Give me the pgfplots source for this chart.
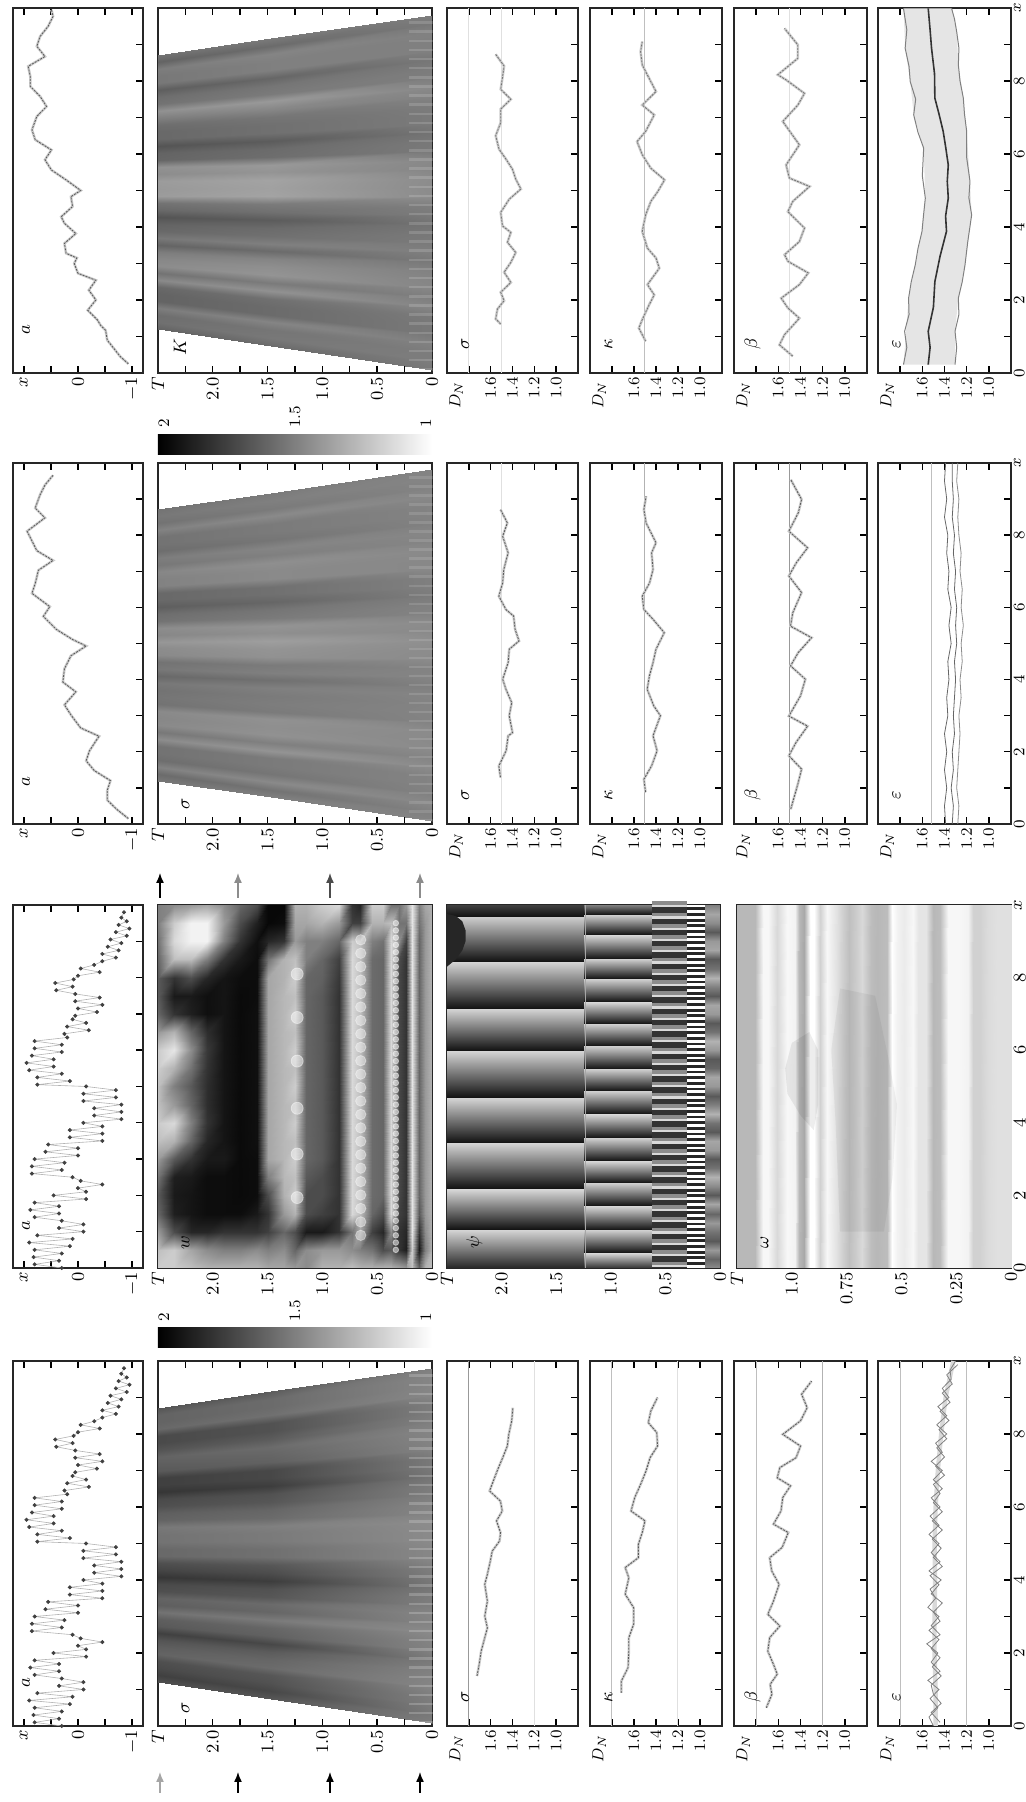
\documentclass[border=0pt]{standalone}
\usepackage{pgfplots}
\usepackage{pgfplotstable}
\usepackage{graphicx}
\pgfplotsset{compat=1.18}
\usetikzlibrary{arrows.meta}
% ---------- styles
\pgfplotsset{
 place/.style n args={4}{at={(#1*0.5pt,#2*0.5pt)},anchor=south west,width=#3*0.5pt,height=#4*0.5pt,scale only axis},
 base/.style={xmin=0,xmax=10,xtick={0,1,...,10},xticklabels={},xtick pos=lower,ytick pos=both,tick align=inside,
   major tick length=3.5pt,tick style={black,line width=.7pt},axis line style={line width=.8pt,black!85},
   colormap={bw}{gray(0cm)=(0); gray(1cm)=(1)},point meta min=0,point meta max=1,
   yticklabel style={xshift=1.5pt},xticklabel style={yshift=2pt}},
 xlab/.style={xticklabels={$0$,,$2$,,$4$,,$6$,,$8$,,$x$},tick label style={font=\fontsize{8.5}{9}\selectfont}},
 apanel/.style={base,ymin=-1.2,ymax=1.2,ytick={-1,-.5,0,.5,1},yticklabels={$-1$,,$0$,,$x$},tick label style={font=\fontsize{9.5}{10}\selectfont}},
 heat/.style={base,ymin=0,ymax=2.5,ytick={0,.25,...,2.5},yticklabels={$0$,,$0.5$,,$1.0$,,$1.5$,,$2.0$,,$T$},tick label style={font=\fontsize{9.5}{10}\selectfont}},
 dpanel/.style={base,ymin=.8,ymax=2,ytick={1,1.2,1.4,1.6,1.8},yticklabels={$1.0$,$1.2$,$1.4$,$1.6$,},tick label style={font=\fontsize{8.5}{9}\selectfont},
   extra description/.append code={\node[anchor=east,font=\fontsize{8.5}{9}\selectfont] at (axis description cs:-.003,.93) {$D_N$};}},
 lett/.style n args={3}{extra description/.append code={\node[font=\fontsize{9.5}{10}\selectfont] at (axis description cs:#1,#2) {$#3$};}},
 ser/.style={line width=.4pt,black!65,dash pattern=on 1pt off .6pt,preaction={draw,solid,line width=1.3pt,black!20}},
 fast/.style={line width=.3pt,black!30,mark=*,mark size=.85pt,mark options={solid,fill=black!75,draw=black!75}},
 refl/.style={line width=.5pt,black!40},
 faint/.style={line width=.5pt,black!12},
}
% ---------- a(x)
\newcommand\aFast{(0,.3)(.1,.8)(.2,.35)(.3,.82)(.4,.3)(.5,.8)(.6,.15)(.7,.9)(.8,.1)(.9,.75)(1,-.1)(1.1,.35)(1.2,-.1)(1.3,.3)(1.4,.8)(1.5,.35)(1.6,.88)(1.7,.35)(1.8,.8)(1.9,-.15)(2,.45)(2.1,-.15)(2.2,0)(2.3,-.45)(2.4,-.05)(2.5,.1)(2.6,.85)(2.7,.3)(2.8,.85)(2.9,.25)(3,.8)(3.1,0)(3.2,.6)(3.3,0)(3.4,.55)(3.5,-.45)(3.6,.15)(3.7,-.45)(3.8,.15)(3.9,-.45)(4,-.1)(4.1,-.8)(4.2,-.3)(4.3,-.8)(4.4,-.3)(4.5,-.8)(4.6,-.1)(4.7,-.7)(4.8,-.1)(4.9,-.7)(5,-.15)(5.05,.75)(5.15,.15)(5.25,.75)(5.35,.3)(5.45,.9)(5.55,.45)(5.65,.95)(5.75,.45)(5.85,.85)(5.95,.3)(6.05,.8)(6.15,.3)(6.25,.8)(6.35,.2)(6.45,.25)(6.55,-.2)(6.65,.2)(6.75,-.15)(6.85,.1)(6.95,.05)(7.05,-.35)(7.15,0)(7.25,-.45)(7.35,.05)(7.45,-.4)(7.55,.05)(7.65,.4)(7.75,.1)(7.85,.42)(7.95,.08)(8.05,0)(8.15,-.4)(8.25,-.05)(8.35,-.3)(8.45,-.45)(8.55,-.7)(8.65,-.45)(8.75,-.75)(8.85,-.55)(8.95,-.8)(9.05,-.6)(9.15,-.9)(9.25,-.7)(9.35,-.95)(9.45,-.75)(9.55,-.9)(9.65,-.8)(9.8,-.85)}
\newcommand\aSlowFour{(.25,-.93)(.45,-.78)(.62,-.69)(.9,-.54)(1.17,-.51)(1.3,-.42)(1.45,-.36)(1.72,-.18)(2,-.33)(2.27,-.2)(2.54,-.33)(2.73,0)(3,.07)(3.15,.02)(3.28,.22)(3.55,.25)(3.82,.04)(4.1,.25)(4.28,.31)(4.56,.1)(4.83,.13)(5,-.05)(5.29,.22)(5.56,.49)(5.84,.61)(6.11,.49)(6.39,.79)(6.66,.85)(7.03,.76)(7.3,.58)(7.58,.7)(7.85,.88)(8.12,.88)(8.4,.92)(8.67,.61)(8.95,.76)(9.22,.7)(9.5,.55)(9.77,.46)(9.95,.49)}
\newcommand\aSlowThree{(.15,-.93)(.4,-.72)(.66,-.54)(.93,-.54)(1.2,-.6)(1.48,-.3)(1.75,-.15)(2.02,-.21)(2.3,-.33)(2.43,-.39)(2.66,-.05)(3.02,.13)(3.3,.25)(3.66,.04)(3.93,.28)(4.3,.25)(4.66,.13)(4.93,-.15)(5.11,.1)(5.39,.4)(5.75,.64)(6.02,.52)(6.39,.85)(6.66,.79)(7.03,.73)(7.3,.46)(7.57,.76)(7.84,.85)(8.11,.94)(8.48,.61)(8.75,.79)(9.12,.7)(9.39,.61)(9.66,.46)}
% ---------- wedge stripes
\pgfplotstableread[row sep=\\]{g\\.42\\.47\\.46\\.52\\.42\\.42\\.44\\.57\\.48\\.58\\.56\\.52\\.42\\.5\\.44\\.42\\.36\\.44\\.48\\.64\\.63\\.64\\.58\\.6\\.43\\.42\\.36\\.44\\.44\\.46\\.53\\.6\\.48\\.46\\.4\\.5\\.5\\.52\\.42\\.48\\}\tK
\pgfplotstableread[row sep=\\]{g\\.5\\.45\\.54\\.46\\.48\\.48\\.58\\.5\\.57\\.56\\.57\\.48\\.49\\.48\\.5\\.44\\.5\\.48\\.57\\.58\\.62\\.56\\.58\\.48\\.46\\.4\\.44\\.44\\.54\\.54\\.56\\.5\\.52\\.46\\.48\\.48\\.54\\.48\\.5\\.48\\}\tS
\pgfplotstableread[row sep=\\]{g\\.34\\.28\\.32\\.34\\.42\\.4\\.36\\.28\\.38\\.4\\.48\\.4\\.42\\.34\\.32\\.24\\.3\\.34\\.44\\.44\\.48\\.48\\.5\\.42\\.4\\.34\\.32\\.24\\.28\\.28\\.38\\.4\\.42\\.36\\.32\\.32\\.44\\.42\\.42\\.36\\}\tC
\newcommand\triple[2]{\pgfplotstablevertcat{#1}{#2}\pgfplotstablevertcat{#1}{#2}\pgfplotstablevertcat{#1}{#2}\pgfplotstablecreatecol[create col/set={0}]{d}{#1}}
\triple{\tKt}{\tK}\triple{\tSt}{\tS}\triple{\tCt}{\tC}
\newcommand\wT{(\coordindex<40?0:(\coordindex<80?1.47:2.5))}
\newcommand\wedgeplot[2]{\addplot[surf,shader=interp,mesh/cols=40,point meta=explicit] table[
  x expr={5+(0.07+0.25*mod(\coordindex,40)-5)*(1-0.092*\wT)},
  y expr={\wT},
  meta expr={\coordindex<40 ? (0.5+(\thisrow{g}-0.5)*0.35+#2) : (\coordindex<80 ? \thisrow{g} : \thisrow{g}-0.03)}] {#1};}
\newcommand\ripple{(.1,.1)(.35,.1)(.6,.1)(.85,.1)(1.1,.1)(1.35,.1)(1.6,.1)(1.85,.1)(2.1,.1)(2.35,.1)(2.6,.1)(2.85,.1)(3.1,.1)(3.35,.1)(3.6,.1)(3.85,.1)(4.1,.1)(4.35,.1)(4.6,.1)(4.85,.1)(5.1,.1)(5.35,.1)(5.6,.1)(5.85,.1)(6.1,.1)(6.35,.1)(6.6,.1)(6.85,.1)(7.1,.1)(7.35,.1)(7.6,.1)(7.85,.1)(8.1,.1)(8.35,.1)(8.6,.1)(8.85,.1)(9.1,.1)(9.35,.1)(9.6,.1)}
% ---------- W table, T rows ascending, x = 0,0.5,...,10
\pgfplotstableread[row sep=\\]{g\\
.75\\.7\\.7\\.7\\.7\\.7\\.7\\.7\\.7\\.7\\.7\\.7\\.7\\.7\\.7\\.7\\.7\\.7\\.7\\.7\\.7\\
.7\\.5\\.55\\.6\\.6\\.6\\.6\\.6\\.6\\.6\\.6\\.6\\.6\\.6\\.6\\.6\\.6\\.6\\.6\\.6\\.65\\
.4\\.1\\.2\\.35\\.4\\.4\\.4\\.4\\.4\\.4\\.4\\.4\\.4\\.4\\.4\\.4\\.4\\.4\\.4\\.45\\.5\\
.75\\.8\\.9\\.9\\.9\\.9\\.9\\.9\\.9\\.9\\.9\\.9\\.9\\.9\\.9\\.9\\.9\\.9\\.9\\.9\\.9\\
.6\\.12\\.15\\.2\\.2\\.2\\.2\\.2\\.2\\.2\\.2\\.2\\.2\\.2\\.2\\.2\\.2\\.2\\.25\\.45\\.6\\
.65\\.2\\.2\\.25\\.28\\.28\\.28\\.28\\.28\\.28\\.28\\.28\\.28\\.28\\.28\\.28\\.28\\.3\\.55\\.45\\.45\\
.7\\.35\\.55\\.85\\.85\\.85\\.85\\.85\\.85\\.85\\.85\\.85\\.85\\.85\\.85\\.85\\.85\\.85\\.85\\.75\\.45\\
.7\\.3\\.15\\.3\\.4\\.4\\.4\\.4\\.4\\.4\\.4\\.4\\.4\\.4\\.4\\.4\\.4\\.4\\.45\\.7\\.8\\
.7\\.45\\.25\\.4\\.42\\.42\\.42\\.42\\.42\\.42\\.42\\.42\\.42\\.42\\.42\\.42\\.42\\.42\\.5\\.7\\.8\\
.7\\.5\\.65\\.75\\.75\\.75\\.75\\.75\\.75\\.75\\.75\\.75\\.75\\.75\\.75\\.75\\.75\\.75\\.75\\.25\\.15\\
.75\\.55\\.45\\.85\\.85\\.85\\.85\\.85\\.85\\.85\\.85\\.85\\.85\\.85\\.85\\.85\\.85\\.85\\.8\\.25\\.2\\
.7\\.6\\.2\\.2\\.2\\.2\\.2\\.2\\.2\\.2\\.2\\.2\\.2\\.2\\.2\\.2\\.22\\.25\\.4\\.6\\.85\\
.7\\.6\\.1\\.25\\.3\\.3\\.35\\.35\\.35\\.35\\.35\\.35\\.35\\.35\\.35\\.35\\.38\\.4\\.5\\.7\\.8\\
.55\\.55\\.1\\.3\\.3\\.35\\.4\\.4\\.4\\.4\\.4\\.4\\.4\\.4\\.4\\.4\\.4\\.5\\.5\\.65\\.7\\
.6\\.4\\.3\\.7\\.8\\.75\\.8\\.75\\.8\\.75\\.8\\.75\\.8\\.75\\.8\\.75\\.8\\.75\\.6\\.65\\.7\\
.65\\.55\\.4\\.6\\.7\\.72\\.72\\.72\\.72\\.72\\.72\\.72\\.72\\.72\\.72\\.72\\.7\\.7\\.2\\.05\\.03\\
.65\\.5\\.25\\.2\\.3\\.5\\.65\\.65\\.65\\.65\\.65\\.65\\.65\\.65\\.65\\.65\\.65\\.45\\.15\\.03\\.03\\
.7\\.55\\.2\\.1\\.05\\.05\\.05\\.06\\.06\\.06\\.06\\.06\\.06\\.06\\.06\\.05\\.05\\.05\\.06\\.12\\.3\\
.7\\.5\\.2\\.05\\.04\\.04\\.04\\.04\\.04\\.04\\.04\\.04\\.04\\.04\\.04\\.04\\.05\\.1\\.2\\.3\\.4\\
.7\\.5\\.2\\.05\\.05\\.05\\.1\\.08\\.08\\.08\\.08\\.08\\.08\\.08\\.08\\.08\\.08\\.2\\.5\\.6\\.55\\
.7\\.55\\.15\\.05\\.05\\.05\\.1\\.15\\.2\\.18\\.18\\.2\\.22\\.18\\.06\\.06\\.15\\.5\\.95\\.95\\.65\\
.75\\.65\\.15\\.08\\.08\\.1\\.2\\.4\\.5\\.4\\.35\\.45\\.55\\.4\\.12\\.1\\.3\\.75\\.95\\.95\\.6\\
.8\\.8\\.3\\.12\\.1\\.12\\.35\\.7\\.85\\.6\\.5\\.7\\.9\\.7\\.2\\.1\\.2\\.75\\.85\\.8\\.55\\
.8\\.75\\.6\\.4\\.35\\.45\\.6\\.75\\.8\\.75\\.75\\.8\\.8\\.6\\.4\\.35\\.35\\.4\\.45\\.5\\.5\\
}\tW
\pgfplotstablecreatecol[create col/set={0}]{d}{\tW}
% ---------- phase panel
\pgfplotstableread[row sep=\\]{x g\\0 .15\\1.07 .85\\1.08 .08\\2.18 .85\\2.19 .08\\3.47 .85\\3.48 .08\\4.71 .85\\4.72 .08\\6 .85\\6.01 .08\\7.16 .85\\7.17 .08\\8.45 .85\\8.46 .08\\9.69 .82\\9.7 .08\\10 .25\\}\Pa
\pgfplotstableread[row sep=\\]{x g\\0 .2\\.42 .85\\.43 .1\\1.07 .85\\1.08 .1\\1.72 .85\\1.73 .1\\2.36 .85\\2.37 .1\\2.96 .85\\2.97 .1\\3.61 .85\\3.62 .1\\4.25 .85\\4.26 .1\\4.9 .85\\4.91 .1\\5.5 .85\\5.51 .1\\6.14 .85\\6.15 .1\\6.74 .85\\6.75 .1\\7.34 .85\\7.35 .1\\7.98 .85\\7.99 .1\\8.54 .85\\8.55 .1\\9.18 .85\\9.19 .1\\9.74 .85\\9.75 .1\\10 .5\\}\Pb
\pgfplotstableread[row sep=\\]{x g\\0 .55\\.25 .4\\.5 .6\\.75 .35\\1 .45\\1.25 .6\\1.5 .4\\1.75 .65\\2 .35\\2.25 .55\\2.5 .7\\2.75 .45\\3 .35\\3.25 .6\\3.5 .65\\3.75 .35\\4 .45\\4.25 .7\\4.5 .5\\4.75 .35\\5 .6\\5.25 .65\\5.5 .4\\5.75 .35\\6 .6\\6.25 .7\\6.5 .45\\6.75 .35\\7 .6\\7.25 .65\\7.5 .35\\7.75 .5\\8 .7\\8.25 .45\\8.5 .35\\8.75 .65\\9 .6\\9.25 .35\\9.5 .55\\9.75 .65\\10 .5\\}\Pe
\pgfplotstablevertcat{\Paa}{\Pa}\pgfplotstablevertcat{\Paa}{\Pa}
\pgfplotstablevertcat{\Pbb}{\Pb}\pgfplotstablevertcat{\Pbb}{\Pb}
\pgfplotstablevertcat{\Pee}{\Pe}\pgfplotstablevertcat{\Pee}{\Pe}
\newcommand\Lthree{(.05,.46)(.36,.46)(.67,.46)(.98,.46)(1.29,.46)(1.6,.46)(1.91,.46)(2.22,.46)(2.53,.46)(2.84,.46)(3.15,.46)(3.46,.46)(3.77,.46)(4.08,.46)(4.39,.46)(4.7,.46)(5.01,.46)(5.32,.46)(5.63,.46)(5.94,.46)(6.25,.46)(6.56,.46)(6.87,.46)(7.18,.46)(7.49,.46)(7.8,.46)(8.11,.46)(8.42,.46)(8.73,.46)(9.04,.46)(9.35,.46)(9.66,.46)(9.97,.46)}
\newcommand\Lfour{(.05,.22)(.36,.22)(.67,.22)(.98,.22)(1.29,.22)(1.6,.22)(1.91,.22)(2.22,.22)(2.53,.22)(2.84,.22)(3.15,.22)(3.46,.22)(3.77,.22)(4.08,.22)(4.39,.22)(4.7,.22)(5.01,.22)(5.32,.22)(5.63,.22)(5.94,.22)(6.25,.22)(6.56,.22)(6.87,.22)(7.18,.22)(7.49,.22)(7.8,.22)(8.11,.22)(8.42,.22)(8.73,.22)(9.04,.22)(9.35,.22)(9.66,.22)(9.97,.22)}
% ---------- wave panel
\pgfplotstableread[row sep=\\]{T g\\0 .88\\.058 .88\\.104 .86\\.142 .82\\.173 .82\\.196 .95\\.242 .97\\.288 .97\\.326 .74\\.357 .72\\.388 .9\\.426 .9\\.449 .97\\.487 .92\\.518 .95\\.541 1\\.564 .74\\.61 .72\\.64 .74\\.679 .85\\.709 .8\\.74 .75\\.77 .82\\.794 .88\\.84 .97\\.873 .82\\.9 1\\.919 1\\.944 .66\\.965 .72\\.985 .95\\1.023 .97\\1.069 .85\\1.108 .97\\1.13 .97\\1.169 .72\\1.215 .72\\1.25 .72\\}\Wv
\pgfplotstablevertcat{\Wvv}{\Wv}\pgfplotstablevertcat{\Wvv}{\Wv}
\begin{document}
\rotatebox{90}{%
\begin{tikzpicture}
\path[use as bounding box] (0,0) rectangle (901pt,513pt);
% ========== column 1
\begin{axis}[place={76}{883}{365}{130},apanel,lett={.118}{.9}{a}]
 \addplot[fast] coordinates {\aFast};
\end{axis}
\begin{axis}[place={76}{594}{365}{274},heat,lett={.05}{.9}{\sigma}]
 \wedgeplot{\tCt}{0.05}
 \addplot[only marks,mark=|,mark size=6pt,mark options={line width=1.2pt,white,opacity=.2}] coordinates {\ripple};
\end{axis}
\begin{axis}[place={76}{448}{365}{131},dpanel,lett={.08}{.86}{\sigma}]
 \addplot[refl] coordinates {(0,1.8)(10,1.8)}; \addplot[faint] coordinates {(0,1.2)(10,1.2)};
 \addplot[ser] coordinates {(1.37,1.725)(1.69,1.705)(2.05,1.687)(2.42,1.654)(2.69,1.63)(3.01,1.654)(3.42,1.63)(3.88,1.654)(4.16,1.63)(4.52,1.603)(4.79,1.586)(5.07,1.518)(5.3,1.51)(5.62,1.546)(5.89,1.494)(6.16,1.51)(6.44,1.61)(6.71,1.576)(7.03,1.535)(7.35,1.49)(7.67,1.447)(7.99,1.434)(8.36,1.407)(8.72,1.397)};
\end{axis}
\begin{axis}[place={76}{304}{365}{132},dpanel,lett={.08}{.86}{\kappa}]
 \addplot[faint,black!25] coordinates {(0,1.8)(10,1.8)}; \addplot[faint] coordinates {(0,1.2)(10,1.2)};
 \addplot[ser] coordinates {(.91,1.715)(1.23,1.715)(1.6,1.654)(2.05,1.647)(2.42,1.647)(2.79,1.603)(3.24,1.603)(3.61,1.68)(4.06,1.647)(4.34,1.68)(4.61,1.56)(4.98,1.56)(5.3,1.525)(5.62,1.5)(5.89,1.627)(6.26,1.593)(6.62,1.54)(6.99,1.49)(7.35,1.454)(7.67,1.386)(8.04,1.393)(8.31,1.47)(8.63,1.447)(9,1.386)};
\end{axis}
\begin{axis}[place={76}{159}{365}{133},dpanel,lett={.08}{.86}{\beta}]
 \addplot[faint,black!25] coordinates {(0,1.8)(10,1.8)}; \addplot[refl,black!30] coordinates {(0,1.2)(10,1.2)};
 \addplot[ser] coordinates {(.5,1.708)(.87,1.658)(1.14,1.674)(1.42,1.61)(1.69,1.644)(2.05,1.695)(2.42,1.678)(2.74,1.586)(3.06,1.695)(3.42,1.644)(3.88,1.593)(4.25,1.66)(4.61,1.678)(4.89,1.566)(5.3,1.51)(5.53,1.644)(5.89,1.576)(6.26,1.56)(6.58,1.49)(6.8,1.61)(7.08,1.586)(7.35,1.44)(7.67,1.4)(7.99,1.56)(8.36,1.4)(8.72,1.34)(9.09,1.39)(9.45,1.3)};
\end{axis}
\begin{axis}[place={76}{15}{365}{133},dpanel,xlab,lett={.08}{.86}{\varepsilon}]
 \addplot[faint,black!25] coordinates {(0,1.8)(10,1.8)}; \addplot[faint,black!25] coordinates {(0,1.2)(10,1.2)};
 \addplot[line width=2.2pt,black!15] coordinates {(0,1.48)(1,1.48)(2,1.49)(3,1.49)(4,1.485)(5,1.49)(6,1.48)(7,1.46)(8,1.43)(9,1.39)(10,1.32)};
 \addplot[line width=.4pt,black!50] coordinates {(0,1.5)(.25,1.54)(.5,1.46)(.75,1.53)(1,1.45)(1.25,1.55)(1.5,1.44)(1.75,1.52)(2,1.46)(2.25,1.56)(2.5,1.44)(2.75,1.52)(3,1.45)(3.25,1.55)(3.5,1.48)(3.75,1.53)(4,1.43)(4.25,1.54)(4.5,1.44)(4.75,1.52)(5,1.45)(5.25,1.54)(5.5,1.45)(5.75,1.53)(6,1.44)(6.25,1.52)(6.5,1.42)(6.75,1.5)(7,1.42)(7.25,1.52)(7.5,1.42)(7.75,1.48)(8,1.38)(8.25,1.47)(8.5,1.38)(8.75,1.46)(9,1.36)(9.25,1.42)(9.5,1.34)(9.75,1.35)(10,1.3)};
 \addplot[line width=.4pt,black!50] coordinates {(.1,1.44)(.37,1.52)(.62,1.43)(.87,1.5)(1.12,1.52)(1.37,1.43)(1.62,1.51)(1.87,1.44)(2.12,1.52)(2.37,1.45)(2.62,1.54)(2.87,1.44)(3.12,1.5)(3.37,1.42)(3.62,1.52)(3.87,1.45)(4.12,1.53)(4.37,1.42)(4.62,1.5)(4.87,1.43)(5.12,1.51)(5.37,1.42)(5.62,1.51)(5.87,1.42)(6.12,1.5)(6.37,1.44)(6.62,1.5)(6.87,1.4)(7.12,1.48)(7.37,1.4)(7.62,1.47)(7.87,1.38)(8.12,1.45)(8.37,1.36)(8.62,1.44)(8.87,1.35)(9.12,1.42)(9.37,1.33)(9.62,1.38)(9.9,1.28)};
\end{axis}
% ========== column 2
\begin{axis}[place={534}{883}{363}{130},apanel,lett={.118}{.9}{a}]
 \addplot[fast] coordinates {\aFast};
\end{axis}
\begin{axis}[place={534}{594}{363}{274},heat,lett={.07}{.9}{w}]
 \addplot[surf,shader=interp,mesh/cols=21,point meta=explicit] table[
   x expr={mod(\coordindex,21)*0.5},
   y expr={\coordindex<21?0:(\coordindex<42?0.06:(\coordindex<63?0.12:(\coordindex<84?0.18:(\coordindex<105?0.24:(\coordindex<126?0.3:(\coordindex<147?0.37:(\coordindex<168?0.45:(\coordindex<189?0.55:(\coordindex<210?0.66:(\coordindex<231?0.73:(\coordindex<252?0.85:(\coordindex<273?1.0:(\coordindex<294?1.15:(\coordindex<315?1.25:(\coordindex<336?1.35:(\coordindex<357?1.5:(\coordindex<378?1.6:(\coordindex<399?1.75:(\coordindex<420?1.9:(\coordindex<441?2.05:(\coordindex<462?2.2:(\coordindex<483?2.35:2.5))))))))))))))))))))))},
   meta=g] {\tW};
 \addplot[only marks,mark=*,mark size=2.6pt,mark options={draw=white,fill=white,opacity=.4}] coordinates {(.9,.65)(1.27,.65)(1.64,.65)(2.01,.65)(2.38,.65)(2.75,.65)(3.12,.65)(3.49,.65)(3.86,.65)(4.23,.65)(4.6,.65)(4.97,.65)(5.34,.65)(5.71,.65)(6.08,.65)(6.45,.65)(6.82,.65)(7.19,.65)(7.56,.65)(7.93,.65)(8.3,.65)(8.67,.65)(9.04,.65)};
 \addplot[only marks,mark=*,mark size=1.4pt,mark options={draw=white,fill=white,opacity=.5}] coordinates {(.5,.33)(.7,.33)(.9,.33)(1.1,.33)(1.3,.33)(1.5,.33)(1.7,.33)(1.9,.33)(2.1,.33)(2.3,.33)(2.5,.33)(2.7,.33)(2.9,.33)(3.1,.33)(3.3,.33)(3.5,.33)(3.7,.33)(3.9,.33)(4.1,.33)(4.3,.33)(4.5,.33)(4.7,.33)(4.9,.33)(5.1,.33)(5.3,.33)(5.5,.33)(5.7,.33)(5.9,.33)(6.1,.33)(6.3,.33)(6.5,.33)(6.7,.33)(6.9,.33)(7.1,.33)(7.3,.33)(7.5,.33)(7.7,.33)(7.9,.33)(8.1,.33)(8.3,.33)(8.5,.33)(8.7,.33)(8.9,.33)(9.1,.33)(9.3,.33)(9.5,.33)};
 \addplot[only marks,mark=*,mark size=3pt,mark options={draw=white,fill=white,opacity=.45}] coordinates {(1.94,1.23)(3.14,1.23)(4.4,1.23)(5.7,1.23)(6.9,1.23)(8.1,1.23)};
\end{axis}
\begin{axis}[place={534}{306}{363}{273},heat,lett={.07}{.9}{\psi}]
 \addplot[surf,shader=interp,mesh/cols=18,point meta=explicit] table[x=x,y expr={\coordindex<18 ? 1.25 : 2.5},meta=g] {\Paa};
 \addplot[surf,shader=interp,mesh/cols=34,point meta=explicit] table[x=x,y expr={\coordindex<34 ? 0.62 : 1.25},meta=g] {\Pbb};
 \addplot[fill=black!80,draw=none] coordinates {(0,.3)(10,.3)(10,.62)(0,.62)};
 \addplot[only marks,mark=|,mark size=8.8pt,mark options={line width=1.2pt,white!85!black}] coordinates {\Lthree};
 \addplot[only marks,mark=|,mark size=8.8pt,mark options={line width=1.8pt,black!45,xshift=1.4pt}] coordinates {\Lthree};
 \addplot[surf,shader=interp,mesh/cols=41,point meta=explicit] table[x=x,y expr={\coordindex<41 ? 0 : 0.14},meta=g] {\Pee};
 \addplot[fill=black!85,draw=none] coordinates {(0,.14)(10,.14)(10,.3)(0,.3)};
 \addplot[only marks,mark=|,mark size=4.4pt,mark options={line width=1.4pt,white}] coordinates {\Lfour};
 \addplot[only marks,mark=|,mark size=4.4pt,mark options={line width=1.4pt,white,xshift=2.8pt}] coordinates {\Lfour};
 \addplot[line width=.6pt,black!35] coordinates {(0,1.23)(10,1.23)};
 \addplot[fill=black!85,draw=none] coordinates {(8.3,2.5)(8.5,2.42)(8.75,2.36)(9,2.33)(9.3,2.33)(9.55,2.36)(9.7,2.42)(9.75,2.5)};
\end{axis}
\begin{axis}[place={534}{15}{363}{274},base,xlab,ymin=0,ymax=1.25,ytick={0,.125,...,1.25},yticklabels={$0$,,$0.25$,,$0.5$,,$0.75$,,$1.0$,,$T$},lett={.07}{.9}{\omega},tick label style={font=\fontsize{9.5}{10}\selectfont}]
 \addplot[surf,shader=interp,mesh/cols=38,point meta=explicit] table[x expr={\coordindex<38 ? 0 : 10},y=T,meta=g] {\Wvv};
 \addplot[fill=black,fill opacity=.07,draw=none] coordinates {(3.8,.9)(4.2,.96)(4.8,1.02)(5.5,1.03)(6.2,1.0)(6.5,.92)(6,.88)(4.5,.88)};
 \addplot[fill=black,fill opacity=.05,draw=none] coordinates {(1,.58)(2.5,.54)(4.5,.52)(5.8,.56)(7.5,.62)(7.7,.78)(6,.82)(4,.8)(1,.78)};
\end{axis}
% ========== column 3
\begin{axis}[place={978}{883}{361}{130},apanel,lett={.118}{.9}{a}]
 \addplot[ser] coordinates {\aSlowThree};
\end{axis}
\begin{axis}[place={978}{594}{361}{274},heat,lett={.057}{.9}{\sigma}]
 \wedgeplot{\tSt}{0.02}
 \addplot[only marks,mark=|,mark size=6pt,mark options={line width=1.2pt,white,opacity=.12}] coordinates {\ripple};
\end{axis}
\begin{axis}[place={978}{448}{361}{131},dpanel,lett={.08}{.86}{\sigma}]
 \addplot[faint] coordinates {(0,1.5)(10,1.5)};
 \addplot[ser] coordinates {(1.29,1.51)(1.61,1.525)(2.03,1.458)(2.44,1.44)(2.53,1.4)(3,1.43)(3.36,1.407)(3.73,1.46)(4.01,1.49)(4.47,1.44)(4.84,1.43)(5.07,1.34)(5.39,1.376)(5.76,1.39)(5.94,1.46)(6.31,1.525)(6.68,1.49)(7.05,1.48)(7.51,1.44)(7.97,1.49)(8.34,1.447)(8.71,1.51)};
\end{axis}
\begin{axis}[place={978}{304}{361}{132},dpanel,lett={.08}{.86}{\kappa}]
 \addplot[refl,black!30] coordinates {(0,1.5)(10,1.5)};
 \addplot[ser] coordinates {(.88,1.495)(1.24,1.51)(1.61,1.44)(2.03,1.39)(2.44,1.427)(3,1.36)(3.27,1.42)(3.73,1.48)(4.1,1.46)(4.47,1.427)(4.84,1.4)(5.3,1.325)(5.67,1.427)(5.94,1.51)(6.31,1.525)(6.68,1.458)(7.05,1.427)(7.51,1.44)(7.79,1.4)(8.34,1.49)(8.71,1.51)(9.08,1.49)};
\end{axis}
\begin{axis}[place={978}{159}{361}{133},dpanel,lett={.08}{.86}{\beta}]
 \addplot[refl] coordinates {(0,1.5)(10,1.5)};
 \addplot[ser] coordinates {(.41,1.488)(1.15,1.42)(1.52,1.39)(1.89,1.505)(2.26,1.44)(2.71,1.336)(2.99,1.505)(3.55,1.4)(4.01,1.356)(4.38,1.49)(4.75,1.42)(5.16,1.3)(5.48,1.49)(5.85,1.47)(6.41,1.39)(6.87,1.505)(7.24,1.437)(7.65,1.336)(8.11,1.505)(8.62,1.42)(8.99,1.39)(9.54,1.488)};
\end{axis}
\begin{axis}[place={978}{15}{361}{133},dpanel,xlab,lett={.08}{.86}{\varepsilon}]
 \addplot[refl,black!25] coordinates {(0,1.52)(10,1.52)};
 \addplot[line width=.4pt,black!60] coordinates {(0,1.39)(.5,1.4)(1,1.38)(1.5,1.4)(2,1.38)(2.5,1.4)(3,1.37)(3.5,1.38)(4,1.36)(4.5,1.37)(5,1.34)(5.5,1.36)(6,1.34)(6.5,1.37)(7,1.36)(7.5,1.38)(8,1.37)(8.5,1.4)(9,1.38)(9.5,1.4)(10,1.39)};
 \addplot[line width=.4pt,black!60] coordinates {(0,1.33)(.5,1.32)(1,1.34)(1.5,1.32)(2,1.33)(2.5,1.31)(3,1.32)(3.5,1.31)(4,1.3)(4.5,1.31)(5,1.29)(5.5,1.3)(6,1.29)(6.5,1.31)(7,1.3)(7.5,1.32)(8,1.31)(8.5,1.33)(9,1.32)(9.5,1.33)(10,1.33)};
 \addplot[line width=.4pt,black!45] coordinates {(0,1.28)(.5,1.27)(1,1.29)(1.5,1.28)(2,1.27)(2.5,1.26)(3,1.27)(3.5,1.25)(4,1.26)(4.5,1.24)(5,1.25)(5.5,1.23)(6,1.25)(6.5,1.24)(7,1.26)(7.5,1.25)(8,1.27)(8.5,1.28)(9,1.27)(9.5,1.29)(10,1.28)};
\end{axis}
% ========== column 4
\begin{axis}[place={1429}{883}{365}{130},apanel,lett={.118}{.9}{a}]
 \addplot[ser] coordinates {\aSlowFour};
\end{axis}
\begin{axis}[place={1429}{594}{365}{274},heat,lett={.072}{.92}{K}]
 \wedgeplot{\tKt}{0.0}
 \addplot[only marks,mark=|,mark size=6pt,mark options={line width=1.2pt,white,opacity=.15}] coordinates {\ripple};
\end{axis}
\begin{axis}[place={1429}{448}{365}{131},dpanel,lett={.08}{.86}{\sigma}]
 \addplot[faint] coordinates {(0,1.5)(10,1.5)}; \addplot[faint] coordinates {(0,1.8)(10,1.8)};
 \addplot[ser,black!55] coordinates {(1.34,1.508)(1.48,1.554)(1.75,1.538)(1.98,1.477)(2.21,1.508)(2.48,1.415)(2.76,1.477)(3.03,1.415)(3.3,1.37)(3.58,1.446)(3.85,1.415)(4.03,1.492)(4.4,1.508)(4.76,1.43)(5.04,1.323)(5.31,1.37)(5.58,1.4)(5.86,1.46)(6.13,1.523)(6.5,1.554)(6.86,1.508)(7.23,1.508)(7.5,1.415)(7.77,1.508)(8.09,1.492)(8.41,1.477)(8.73,1.554)};
\end{axis}
\begin{axis}[place={1429}{304}{365}{132},dpanel,lett={.08}{.86}{\kappa}]
 \addplot[refl,black!25] coordinates {(0,1.5)(10,1.5)};
 \addplot[ser,black!55] coordinates {(.87,1.494)(1.23,1.556)(1.46,1.525)(1.87,1.462)(2.14,1.416)(2.42,1.478)(2.87,1.37)(3.15,1.4)(3.42,1.478)(3.88,1.525)(4.33,1.494)(4.7,1.447)(4.97,1.384)(5.29,1.322)(5.61,1.447)(5.98,1.525)(6.34,1.572)(6.62,1.494)(7.07,1.416)(7.34,1.525)(7.71,1.4)(8.07,1.462)(8.44,1.525)(8.8,1.54)(9.08,1.525)};
\end{axis}
\begin{axis}[place={1429}{159}{365}{133},dpanel,lett={.08}{.86}{\beta}]
 \addplot[faint] coordinates {(0,1.5)(10,1.5)};
 \addplot[ser,black!55] coordinates {(.46,1.47)(.77,1.59)(1.05,1.544)(1.5,1.41)(1.78,1.514)(2.05,1.574)(2.42,1.41)(2.74,1.33)(3.06,1.514)(3.24,1.544)(3.6,1.41)(3.97,1.364)(4.42,1.514)(4.7,1.47)(5.11,1.318)(5.34,1.5)(5.7,1.53)(6.25,1.41)(6.89,1.56)(7.34,1.424)(7.66,1.364)(8.03,1.53)(8.17,1.605)(8.62,1.424)(8.99,1.424)(9.44,1.544)};
\end{axis}
\begin{axis}[place={1429}{15}{365}{133},dpanel,xlab,lett={.08}{.86}{\varepsilon}]
 \addplot[fill=black!10,draw=none] coordinates {(.23,1.77)(2.05,1.724)(2.96,1.664)(3.88,1.603)(4.79,1.573)(6.16,1.588)(7.07,1.678)(7.98,1.709)(8.9,1.755)(9.99,1.77)(9.99,1.336)(9.35,1.29)(8.44,1.275)(7.53,1.23)(6.62,1.2)(5.25,1.17)(4.33,1.155)(2.96,1.215)(2.05,1.275)(1.14,1.305)(.23,1.305)};
 \addplot[line width=.5pt,black!50] coordinates {(.23,1.77)(.7,1.74)(1.14,1.76)(1.6,1.72)(2.05,1.724)(2.5,1.7)(2.96,1.664)(3.4,1.64)(3.88,1.603)(4.3,1.59)(4.79,1.573)(5.4,1.6)(6.16,1.588)(6.6,1.64)(7.07,1.678)(7.5,1.66)(7.98,1.709)(8.4,1.72)(8.9,1.755)(9.4,1.74)(9.99,1.77)};
 \addplot[line width=.8pt,black!80] coordinates {(.23,1.547)(.7,1.53)(1.14,1.547)(1.8,1.5)(2.5,1.487)(3.2,1.44)(3.88,1.382)(4.3,1.39)(4.79,1.366)(5.25,1.375)(5.7,1.366)(6.2,1.39)(6.62,1.412)(7.1,1.45)(7.53,1.487)(8.2,1.49)(8.9,1.517)(9.4,1.53)(9.99,1.547)};
 \addplot[line width=.5pt,black!50] coordinates {(.23,1.305)(.7,1.29)(1.14,1.305)(1.6,1.27)(2.05,1.275)(2.5,1.24)(2.96,1.215)(3.6,1.19)(4.33,1.155)(4.8,1.18)(5.25,1.17)(5.9,1.2)(6.62,1.2)(7.1,1.22)(7.53,1.23)(8,1.26)(8.44,1.275)(8.9,1.27)(9.35,1.29)(9.7,1.31)(9.99,1.336)};
\end{axis}
% ========== colour bars
\shade[bottom color=white,top color=black] (227pt,297pt) rectangle (237pt,434pt);
\shade[bottom color=white,top color=black] (673.5pt,297pt) rectangle (683.5pt,434pt);
\foreach \xx in {240,687}{
 \node[anchor=west,font=\fontsize{8.5}{9}\selectfont,inner sep=0pt] at (\xx pt,431pt) {$2$};
 \node[anchor=west,font=\fontsize{8.5}{9}\selectfont,inner sep=0pt] at (\xx pt,365.5pt) {$1.5$};
 \node[anchor=west,font=\fontsize{8.5}{9}\selectfont,inner sep=0pt] at (\xx pt,300pt) {$1$};
}
% ========== arrows
\foreach \yy/\cc in {433/black!35,394/black,348/black,303/black}{
 \draw[-{Latex[length=5pt,width=4pt]},line width=.7pt,\cc] (4.5pt,\yy pt) -- (15pt,\yy pt);}
\foreach \yy/\cc in {433/black,394/black!45,348/black!70,303/black!45}{
 \draw[-{Latex[length=5pt,width=4pt]},line width=.7pt,\cc] (452pt,\yy pt) -- (464.5pt,\yy pt);}
\end{tikzpicture}}
\end{document}
